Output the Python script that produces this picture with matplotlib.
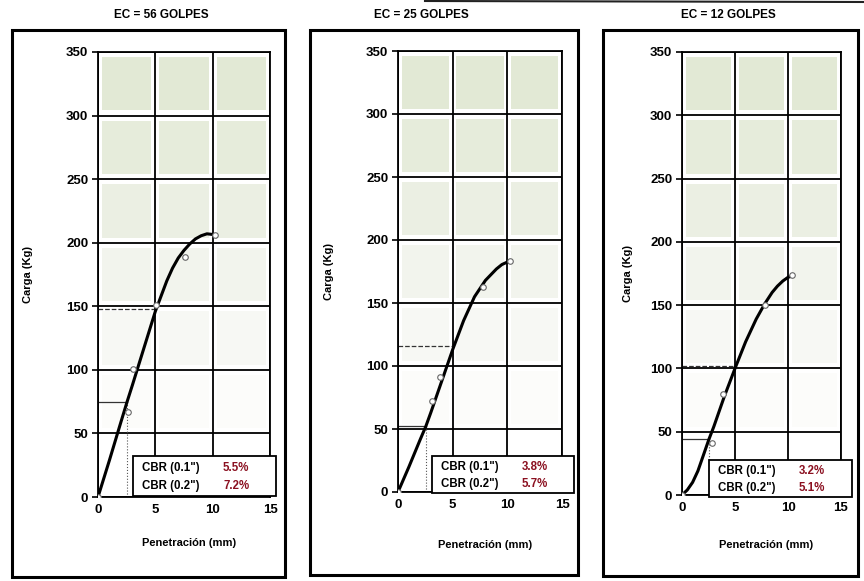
import numpy as np
import matplotlib.pyplot as plt
from matplotlib.patches import Rectangle
from matplotlib.lines import Line2D

plt.rcParams['font.family'] = ['Liberation Sans', 'DejaVu Sans']
plt.rcParams['font.weight'] = 'bold'

titles = ['EC = 56 GOLPES', 'EC = 25 GOLPES', 'EC = 12 GOLPES']

# fitted curve
curve_x_56 = [0, 1, 2, 2.54, 3, 4, 5, 5.5, 6, 6.5, 7, 7.5, 8, 8.5, 9, 9.5, 10, 10.3]
curve_y_56 = [0, 29, 59, 75, 88, 117, 146, 158, 170, 180, 188, 194, 199, 203, 205.5, 207, 206.5, 205]
curve_x_25 = [0, 1, 2, 2.54, 3, 4, 5, 6, 7, 8, 9, 9.5, 10, 10.2]
curve_y_25 = [0, 20, 41, 52, 63, 88, 113, 136, 155, 168, 177, 180.5, 182.5, 183]
curve_x_12 = [0, 0.5, 1, 1.5, 2, 2.54, 3, 4, 5, 6, 7, 7.8, 8.5, 9, 9.5, 10, 10.4]
curve_y_12 = [0, 4, 10, 19, 31, 44, 54, 78, 100, 121, 139, 151, 160, 165, 169, 172, 173]

# measured points
pts_x_56 = [0, 2.6, 3.05, 5.1, 7.6, 10.2]
pts_y_56 = [0, 67, 101, 151, 189, 206]
pts_x_25 = [0, 3.1, 3.8, 7.8, 10.2]
pts_y_25 = [0, 72, 91, 163, 183]
pts_x_12 = [0, 2.8, 3.9, 7.8, 10.4]
pts_y_12 = [0, 41, 80, 150, 174]

# loads at 2.54 mm and 5.08 mm
load_01 = [75, 52, 44]
load_02 = [148, 116, 102]
cbr_01 = ['5.5%', '3.8%', '3.2%']
cbr_02 = ['7.2%', '5.7%', '5.1%']

curves_x = [curve_x_56, curve_x_25, curve_x_12]
curves_y = [curve_y_56, curve_y_25, curve_y_12]
points_x = [pts_x_56, pts_x_25, pts_x_12]
points_y = [pts_y_56, pts_y_25, pts_y_12]

W, H = 864, 581
# pixel layout of each panel: frame (l, t, r, b), axes (l, t, r, b), cbr box (l, t, r, b)
frames = [(12, 30, 285, 577), (310, 30, 578, 575), (603, 30, 858, 576)]
axes_px = [(98, 52, 270, 497), (398, 51, 562, 492), (682, 52, 841, 495)]
boxes_px = [(133, 456, 276, 496), (432, 456, 574, 493), (709, 460, 852, 497)]
title_x = [161, 421, 728]
ylab_x = [28, 329, 628]
xlab_y = [543, 545, 545]

row_colors = ['#ffffff', '#fcfcfa', '#f7f8f4', '#f2f4ed', '#ebefe3', '#e6ecdb', '#e2e9d5']


def fx(x):
    return x / W


def fy(y):
    return 1 - y / H


fig = plt.figure(figsize=(W / 100, H / 100), dpi=100)

# leftover rule from the table above
fig.add_artist(Line2D([fx(425), fx(864)], [fy(1), fy(2)], color='#222222', lw=1.5))

for i in range(3):
    fl, ft, fr, fb = frames[i]
    fig.add_artist(Rectangle((fx(fl), fy(fb)), fx(fr - fl), (fb - ft) / H, fill=False,
                             edgecolor='black', lw=2.2))
    fig.text(fx(title_x[i]), fy(15), titles[i], ha='center', va='center', fontsize=8.5,
             fontweight='bold')

    al, at, ar, ab = axes_px[i]
    ax = fig.add_axes([fx(al), fy(ab), fx(ar - al), (ab - at) / H])
    ax.set_xlim(0, 15)
    ax.set_ylim(0, 350)
    ax.set_xticks([0, 5, 10, 15])
    ax.set_yticks(np.arange(0, 351, 50))

    # shaded cells
    for r in range(7):
        for c in range(3):
            ax.add_patch(Rectangle((c * 5 + 0.35, r * 50 + 4), 4.3, 42, facecolor=row_colors[r],
                                   edgecolor='none', zorder=0))
    ax.grid(True, color='black', lw=1.3, zorder=1)
    ax.set_axisbelow(True)

    # CBR reference lines
    ax.plot([0, 2.54], [load_01[i], load_01[i]], color='#333333', lw=0.9, zorder=2)
    ax.plot([2.54, 2.54], [0, load_01[i]], color='#555555', lw=0.8, ls=':', zorder=2)
    ax.plot([0, 5.08], [load_02[i], load_02[i]], color='#333333', lw=0.9, ls='--', zorder=2)

    ax.plot(curves_x[i], curves_y[i], color='black', lw=2.2, zorder=3)
    ax.plot(points_x[i], points_y[i], ls='none', marker='o', ms=4, mfc='white',
            mec='#666666', mew=0.8, zorder=4)

    for s in ax.spines.values():
        s.set_linewidth(1.3)
    ax.tick_params(axis='y', length=4, width=1.2, pad=3, labelsize=9.5)
    ax.tick_params(axis='x', length=0, pad=5, labelsize=9.5)
    for lab in ax.get_xticklabels() + ax.get_yticklabels():
        lab.set_fontweight('bold')

    fig.text(fx(ylab_x[i]), fy((at + ab) / 2), 'Carga (Kg)', rotation=90, ha='center',
             va='center', fontsize=8, fontweight='bold')
    fig.text(fx((al + ar) / 2 + 5), fy(xlab_y[i]), 'Penetración (mm)', ha='center',
             va='center', fontsize=8, fontweight='bold')

    bl, bt, br, bb = boxes_px[i]
    fig.add_artist(Rectangle((fx(bl), fy(bb)), fx(br - bl), (bb - bt) / H, facecolor='white',
                             edgecolor='black', lw=1.3, zorder=5))
    row1 = bt + (bb - bt) * 0.3
    row2 = bt + (bb - bt) * 0.76
    fig.text(fx(bl + 9), fy(row1), 'CBR (0.1")', ha='left', va='center', fontsize=8.3,
             fontweight='bold', zorder=6)
    fig.text(fx(bl + 9), fy(row2), 'CBR (0.2")', ha='left', va='center', fontsize=8.3,
             fontweight='bold', zorder=6)
    fig.text(fx(bl + 90), fy(row1), cbr_01[i], ha='left', va='center', fontsize=8.3,
             fontweight='bold', color='#8b1020', zorder=6)
    fig.text(fx(bl + 90), fy(row2), cbr_02[i], ha='left', va='center', fontsize=8.3,
             fontweight='bold', color='#8b1020', zorder=6)

fig.savefig('out.png', dpi=100)
